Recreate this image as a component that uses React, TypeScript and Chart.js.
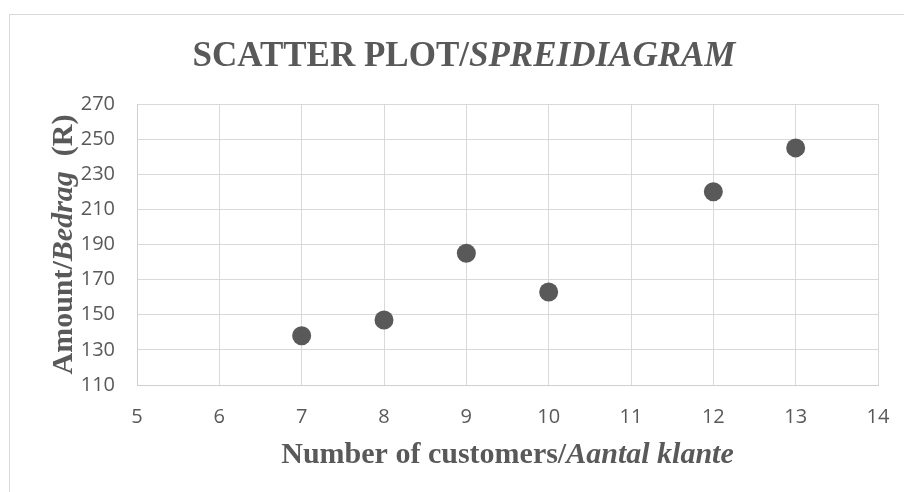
import React, { useEffect, useRef } from "react";
import { Chart, registerables } from "chart.js";

Chart.register(...registerables);

const customers: number[] = [7, 8, 9, 10, 12, 13];
const amounts: number[] = [138, 147, 185, 163, 220, 245];
const xRange = { min: 5, max: 14, step: 1 };
const yRange = { min: 110, max: 270, step: 20 };

const titleParts: [string, boolean][] = [["SCATTER PLOT/", false], ["SPREIDIAGRAM", true]];
const xTitleParts: [string, boolean][] = [["Number of customers/", false], ["Aantal klante", true]];
const yTitleParts: [string, boolean][] = [["Amount/", false], ["Bedrag", true], ["  (R)", false]];

const GREY = "#595959";
const SERIF = "'Liberation Serif', 'Times New Roman', serif";

function drawParts(ctx: CanvasRenderingContext2D, parts: [string, boolean][], size: number, cx: number, cy: number, rot: number) {
  ctx.save();
  ctx.translate(cx, cy);
  ctx.rotate(rot);
  ctx.fillStyle = GREY;
  ctx.textBaseline = "alphabetic";
  ctx.textAlign = "left";
  let total = 0;
  const widths: number[] = [];
  for (const [t, it] of parts) {
    ctx.font = `${it ? "italic " : ""}bold ${size}px ${SERIF}`;
    const w = ctx.measureText(t).width;
    widths.push(w);
    total += w;
  }
  let x = -total / 2;
  parts.forEach(([t, it], i) => {
    ctx.font = `${it ? "italic " : ""}bold ${size}px ${SERIF}`;
    ctx.fillText(t, x, size * 0.33);
    x += widths[i];
  });
  ctx.restore();
}

const textPlugin = {
  id: "mixedText",
  beforeDraw(chart: any) {
    const ctx = chart.ctx as CanvasRenderingContext2D;
    ctx.save();
    ctx.fillStyle = "#ffffff";
    ctx.fillRect(0, 0, chart.width, chart.height);
    ctx.strokeStyle = "#d9d9d9";
    ctx.lineWidth = 1;
    ctx.strokeRect(9.5, 14.5, 1000, 1000);
    ctx.restore();
  },
  afterDraw(chart: any) {
    const ctx = chart.ctx as CanvasRenderingContext2D;
    const a = chart.chartArea;
    drawParts(ctx, titleParts, 35, 464, 54, 0);
    drawParts(ctx, xTitleParts, 30, (a.left + a.right) / 2, 453, 0);
    drawParts(ctx, yTitleParts, 30, 62, (a.top + a.bottom) / 2, -Math.PI / 2);
  },
};

export default function App() {
  const ref = useRef<HTMLCanvasElement | null>(null);
  useEffect(() => {
    if (!ref.current) return;
    const tickFont = { family: "'Open Sans', sans-serif", size: 20 };
    const chart = new Chart(ref.current, {
      type: "scatter",
      data: {
        datasets: [
          {
            label: "Amount",
            data: customers.map((c, i) => ({ x: c, y: amounts[i] })),
            backgroundColor: GREY,
            borderColor: GREY,
            borderWidth: 0,
            pointRadius: 9.5,
            pointHoverRadius: 9.5,
          },
        ],
      },
      options: {
        animation: false,
        responsive: false,
        events: [],
        layout: { padding: { top: 104, right: 26, left: 0, bottom: 0 } },
        plugins: { legend: { display: false }, title: { display: false }, tooltip: { enabled: false } },
        scales: {
          x: {
            type: "linear",
            min: xRange.min,
            max: xRange.max,
            afterFit: (s: any) => { s.height = 107; },
            ticks: { stepSize: xRange.step, color: GREY, font: tickFont, padding: 6 },
            grid: { color: "#d9d9d9", drawTicks: true, tickLength: 14, tickColor: "rgba(0,0,0,0)", lineWidth: 1 },
            border: { color: "#cfcfcf" },
          },
          y: {
            type: "linear",
            min: yRange.min,
            max: yRange.max,
            afterFit: (s: any) => { s.width = 137; },
            ticks: { stepSize: yRange.step, color: GREY, font: tickFont, padding: 22 },
            grid: { color: "#d9d9d9", drawTicks: false, lineWidth: 1 },
            border: { color: "#cfcfcf" },
          },
        },
      } as any,
      plugins: [textPlugin],
    });
    return () => chart.destroy();
  }, []);
  return (
    <div style={{ position: "fixed", left: 0, top: 0, width: 904, height: 492, background: "#fff" }}>
      <canvas ref={ref} width={904} height={492} style={{ width: 904, height: 492, display: "block" }} />
    </div>
  );
}
